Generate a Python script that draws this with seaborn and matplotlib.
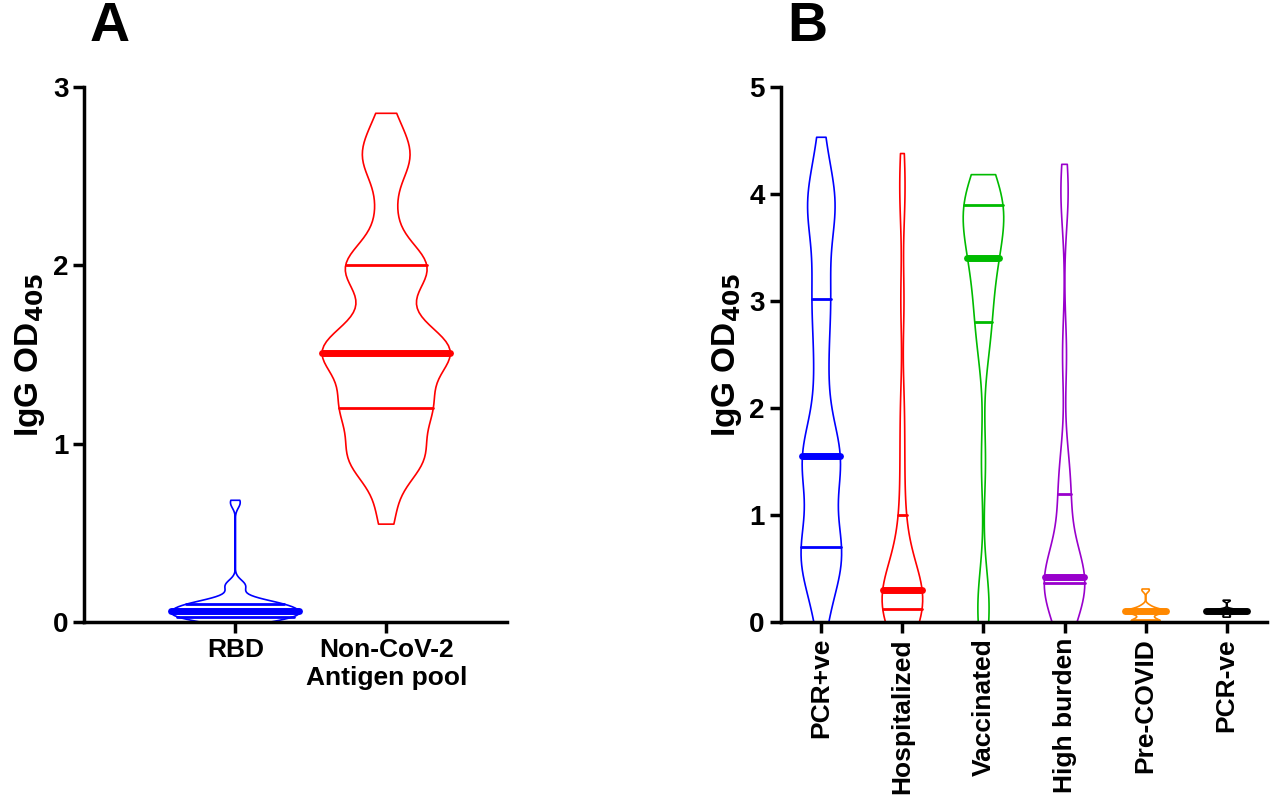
import matplotlib
matplotlib.use("Agg")
import matplotlib.pyplot as plt
import seaborn as sns
import pandas as pd
import numpy as np

sns.set_style("ticks")
plt.rcParams['font.family'] = ['Liberation Sans', 'DejaVu Sans']
plt.rcParams['font.weight'] = 'bold'
plt.rcParams['text.color'] = 'black'
plt.rcParams['axes.labelcolor'] = 'black'
plt.rcParams['xtick.color'] = 'black'
plt.rcParams['ytick.color'] = 'black'
plt.rcParams['axes.edgecolor'] = 'black'

rbd = [0.0,0.01,0.02,0.02,0.02,0.03,0.03,0.04,0.05,0.05,0.06,0.06,0.06,0.07,0.08,0.09,0.1,0.1,0.1,0.1,0.11,0.14,0.2,0.21,0.67]
noncov = [0.6,0.85,0.9,0.9,0.95,1.0,1.15,1.2,1.2,1.2,1.25,1.35,1.45,1.5,1.5,1.5,1.52,1.55,1.55,1.6,1.7,1.85,1.95,2.0,2.0,2.0,2.05,2.3,2.55,2.6,2.65,2.8]
a_labels = ["RBD", "Non-CoV-2\nAntigen pool"]
a_colors = ["#0000ff", "#ff0000"]

pcrpos = [0.0,0.3,0.55,0.6,0.6,0.62,0.7,0.9,1.2,1.4,1.5,1.55,1.55,1.6,1.9,2.3,2.6,3.0,3.02,3.4,3.8,3.9,3.9,4.0,4.4]
hosp = [0.0,0.05,0.1,0.1,0.1,0.12,0.15,0.2,0.25,0.3,0.3,0.3,0.35,0.5,0.7,1.0,1.5,2.0,3.0,3.9,4.25]
vacc = [0.0,0.1,0.3,1.5,2.5,2.8,2.8,3.0,3.3,3.4,3.4,3.45,3.6,3.8,3.88,3.9,3.9,3.9,3.92,3.95,4.05]
high = [0.0,0.1,0.2,0.3,0.35,0.4,0.4,0.4,0.4,0.45,0.5,0.8,1.2,1.2,1.5,2.5,3.9,4.15]
precovid = [0.0,0.0,0.01,0.02,0.05,0.08,0.1,0.1,0.1,0.1,0.12,0.15,0.3]
pcrneg = [0.05,0.08,0.09,0.1,0.1,0.1,0.1,0.11,0.12,0.2]
b_labels = ["PCR+ve","Hospitalized","Vaccinated","High burden","Pre-COVID","PCR-ve"]
b_colors = ["#0000ff","#ff0000","#00bb00","#9900cc","#ff8800","#000000"]

dfa = pd.DataFrame({"g": np.repeat(a_labels, [len(rbd), len(noncov)]), "v": rbd + noncov})
bdata = [pcrpos, hosp, vacc, high, precovid, pcrneg]
dfb = pd.DataFrame({"g": np.repeat(b_labels, [len(d) for d in bdata]), "v": sum(bdata, [])})

fig = plt.figure(figsize=(12.8, 8.11), dpi=100)
axA = fig.add_axes([0.066, 0.233, 0.33, 0.66])
axB = fig.add_axes([0.61, 0.233, 0.38, 0.66])

kw = dict(x="g", y="v", hue="g", legend=False, fill=False, inner="quart",
          density_norm="width", bw_adjust=0.45, cut=0.4, linewidth=1.2)
sns.violinplot(data=dfa, ax=axA, palette=a_colors, width=0.85, **kw)
sns.violinplot(data=dfb, ax=axB, palette=b_colors, width=0.5, **kw)

for ax in (axA, axB):
    for i, ln in enumerate(ax.lines):
        ln.set_linestyle("-")
        ln.set_linewidth(5 if i % 3 == 1 else 2)
    sns.despine(ax=ax)
    for s in ["left", "bottom"]:
        ax.spines[s].set_linewidth(2.5)
    ax.tick_params(width=2.5, length=8, labelsize=20)
    ax.set_xlabel("")
    ax.set_ylabel("IgG OD$_{\\mathbf{405}}$", fontsize=24, fontweight='bold')
    for t in ax.get_yticklabels():
        t.set_fontweight('bold')

axA.set_ylim(0, 3); axA.set_yticks([0, 1, 2, 3]); axA.set_xlim(-1, 1.8)
axA.set_xticks([0, 1])
axA.set_xticklabels(a_labels, fontsize=19, fontweight='bold', ha='center')
axB.set_ylim(0, 5); axB.set_yticks([0, 1, 2, 3, 4, 5]); axB.set_xlim(-0.5, 5.5)
axB.set_xticks(range(6))
axB.set_xticklabels(b_labels, rotation=90, fontsize=19, fontweight='bold')

fig.text(0.07, 0.95, "A", fontsize=40, fontweight='bold')
fig.text(0.615, 0.95, "B", fontsize=40, fontweight='bold')
fig.savefig("out.png", dpi=100)
